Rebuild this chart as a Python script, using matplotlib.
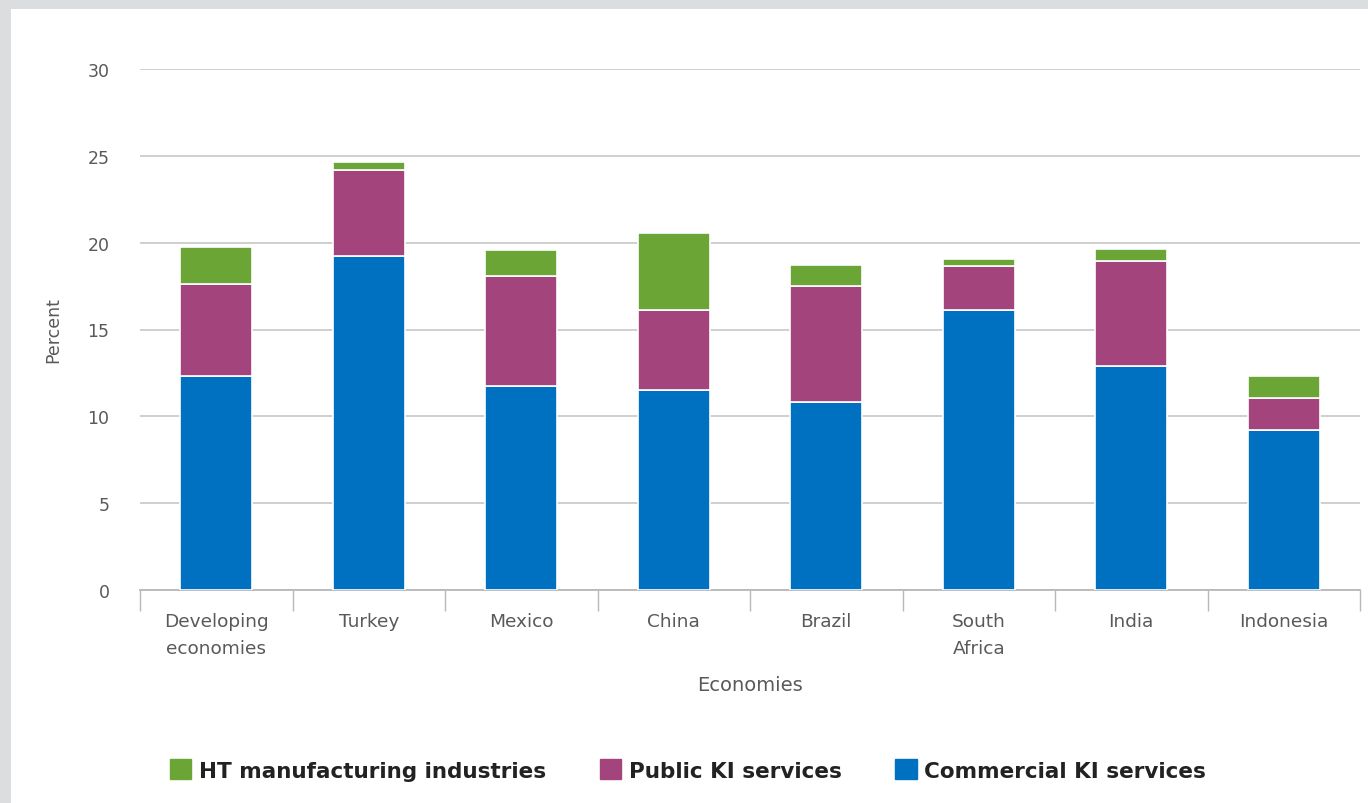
import matplotlib.pyplot as plt
import matplotlib.patches as mpatches
import numpy as np

economies = ["Developing\neconomies", "Turkey", "Mexico", "China", "Brazil",
             "South\nAfrica", "India", "Indonesia"]
commercial_ki = [12.3, 19.25, 11.75, 11.5, 10.8, 16.1, 12.9, 9.2]
public_ki = [5.3, 4.95, 6.35, 4.6, 6.7, 2.55, 6.05, 1.85]
ht_manufacturing = [2.15, 0.45, 1.5, 4.45, 1.2, 0.4, 0.7, 1.25]

blue = "#0070c0"
purple = "#a3447c"
green = "#6aa535"
grey_text = "#595959"

W, H = 1368, 804
fig = plt.figure(figsize=(W / 100, H / 100), dpi=100)
fig.patch.set_facecolor("#dcdddf")
fig.patches.append(mpatches.Rectangle((11 / W, 0), 1 - 11 / W, 1 - 10 / H,
                                      transform=fig.transFigure,
                                      facecolor="white", edgecolor="none", zorder=-10))

ax = fig.add_axes([140 / W, 1 - 591 / H, 1220 / W, 521 / H])
ax.set_facecolor("none")

x = np.arange(len(economies))
c = np.array(commercial_ki)
p = np.array(public_ki)
g = np.array(ht_manufacturing)
bw = 0.47
ax.bar(x, c, bw, color=blue, edgecolor="white", linewidth=1.2, zorder=3)
ax.bar(x, p, bw, bottom=c, color=purple, edgecolor="white", linewidth=1.2, zorder=3)
ax.bar(x, g, bw, bottom=c + p, color=green, edgecolor="white", linewidth=1.2, zorder=3)

ax.set_xlim(-0.5, len(economies) - 0.5)
ax.set_ylim(0, 30)
ax.set_yticks(range(0, 31, 5))
ax.yaxis.grid(True, color="#cccccc", linewidth=1.3)
ax.set_axisbelow(True)
for s in ["top", "right", "left"]:
    ax.spines[s].set_visible(False)
ax.spines["bottom"].set_color("#b8b8b8")
ax.spines["bottom"].set_linewidth(1.3)

font = "DejaVu Sans"
ax.tick_params(axis="y", length=0, pad=22, labelsize=12.5, labelcolor=grey_text)
ax.set_xticks(x)
ax.set_xticklabels(economies, fontsize=13.3, color=grey_text, family=font,
                   linespacing=1.6)
ax.tick_params(axis="x", length=0, pad=16)
ax.set_xticks(np.arange(-0.5, len(economies)), minor=True)
ax.tick_params(axis="x", which="minor", length=15, color="#b8b8b8", width=1)
for lbl in ax.get_yticklabels():
    lbl.set_family(font)

ax.set_ylabel("Percent", fontsize=12.5, color=grey_text, family=font, labelpad=18)
ax.set_xlabel("Economies", fontsize=14, color=grey_text, family=font, labelpad=13)

handles = [mpatches.Patch(color=green, label="HT manufacturing industries"),
           mpatches.Patch(color=purple, label="Public KI services"),
           mpatches.Patch(color=blue, label="Commercial KI services")]
fig.legend(handles=handles, loc="center", bbox_to_anchor=(688 / W, 1 - 771 / H),
           ncol=3, frameon=False, handlelength=1.0, handleheight=1.0,
           handletextpad=0.35, columnspacing=2.5,
           prop={"family": "DejaVu Sans", "weight": "bold", "size": 15.5},
           labelcolor="#222222")

fig.savefig("out.png", dpi=100, facecolor=fig.get_facecolor())
